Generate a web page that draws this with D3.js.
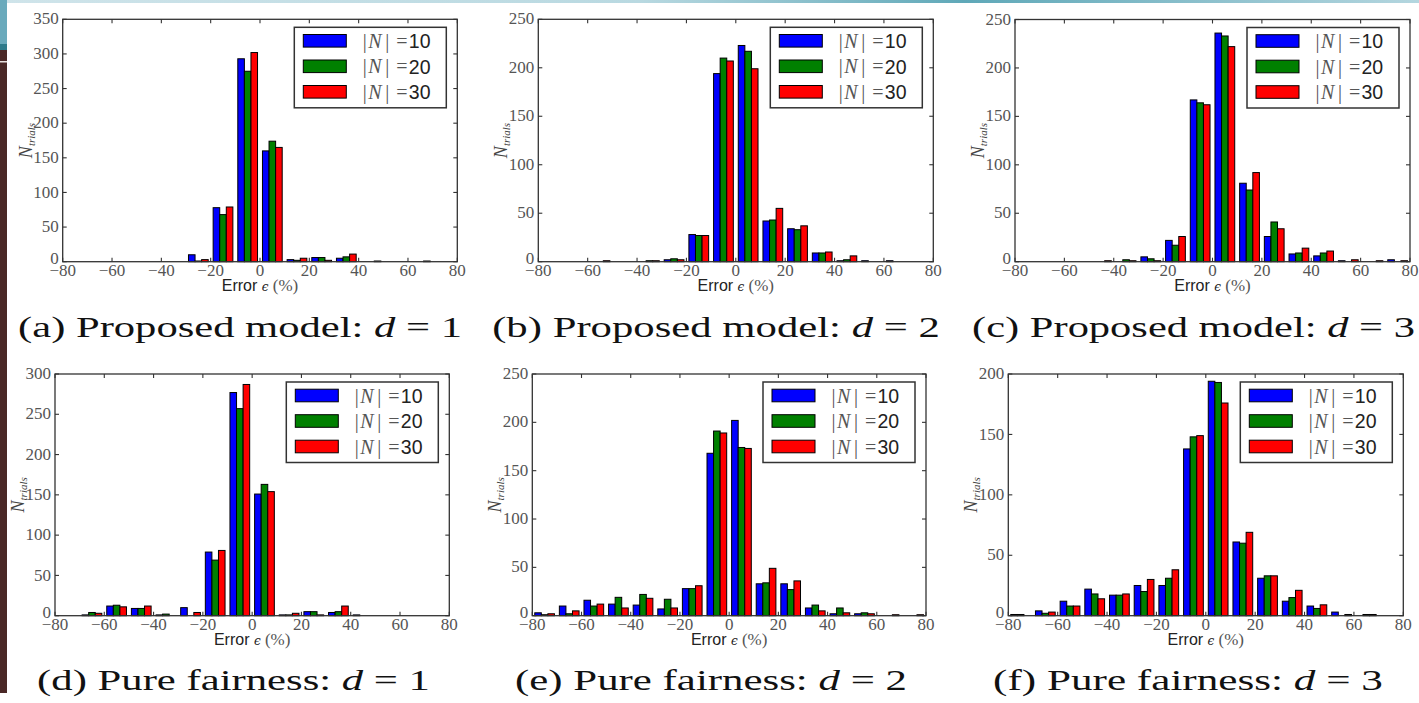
<!DOCTYPE html>
<html>
<head>
<meta charset="utf-8">
<script src="https://cdn.jsdelivr.net/npm/d3@7"></script>
<style>
  body { margin: 0; background: #fff; }
  svg { display: block; }
</style>
</head>
<body>
<div id="chart"></div>
<script>
// histogram bins (error %, width 10)
var binEdges = [-80, -70, -60, -50, -40, -30, -20, -10, 0, 10, 20, 30, 40, 50, 60, 70, 80];
var seriesLabels = ["10", "20", "30"];
var xTicks = [-80, -60, -40, -20, 0, 20, 40, 60, 80];

// counts per bin, rows: |N|=10, |N|=20, |N|=30
var countsA = [
  [0, 0, 0, 0, 0, 10, 78, 293, 160, 3, 6, 5, 0, 0, 0, 0],
  [0, 0, 0, 0, 0, 1, 68, 275, 174, 2, 6, 7, 0, 0, 0, 0],
  [0, 0, 0, 0, 0, 3, 79, 302, 165, 5, 2, 11, 1, 0, 1, 0]
];
var countsB = [
  [0, 0, 0, 0, 0, 2, 28, 194, 223, 42, 34, 9, 1, 1, 1, 0],
  [0, 0, 0, 0, 1, 3, 27, 210, 217, 43, 33, 9, 2, 0, 0, 0],
  [0, 0, 1, 0, 1, 2, 27, 207, 199, 55, 37, 10, 6, 0, 0, 0]
];
var countsC = [
  [0, 0, 0, 0, 0, 5, 22, 167, 236, 81, 26, 8, 6, 1, 0, 2],
  [0, 0, 0, 0, 2, 3, 17, 164, 233, 74, 41, 9, 9, 0, 0, 0],
  [0, 0, 0, 1, 1, 1, 26, 162, 222, 92, 34, 14, 11, 2, 1, 1]
];
var countsD = [
  [0, 1, 12, 9, 1, 10, 79, 277, 151, 1, 5, 4, 1, 0, 0, 0],
  [0, 4, 13, 9, 2, 0, 69, 257, 163, 1, 5, 5, 0, 0, 0, 0],
  [0, 3, 11, 12, 0, 4, 81, 287, 154, 3, 1, 12, 0, 0, 0, 0]
];
var countsE = [
  [3, 10, 16, 12, 11, 7, 28, 168, 202, 33, 33, 8, 2, 2, 0, 0],
  [1, 2, 10, 19, 22, 17, 28, 191, 174, 34, 27, 11, 8, 3, 0, 0],
  [2, 5, 12, 8, 18, 8, 31, 189, 173, 49, 36, 5, 3, 2, 1, 1]
];
var countsF = [
  [1, 4, 12, 22, 17, 25, 25, 138, 194, 61, 31, 12, 8, 3, 0, 0],
  [1, 2, 8, 18, 17, 20, 31, 148, 193, 60, 33, 15, 6, 0, 1, 0],
  [0, 3, 8, 14, 18, 30, 38, 149, 176, 69, 33, 21, 9, 1, 1, 0]
];

var yTicksA = [0, 50, 100, 150, 200, 250, 300, 350];
var yTicksB = [0, 50, 100, 150, 200, 250];
var yTicksD = [0, 50, 100, 150, 200, 250, 300];
var yTicksF = [0, 50, 100, 150, 200];

var captionLetters = ["a", "b", "c", "d", "e", "f"];
var captionNames = ["Proposed model", "Proposed model", "Proposed model",
  "Pure fairness", "Pure fairness", "Pure fairness"];
var captionD = ["1", "2", "3", "1", "2", "3"];

var colors = ["#0000ff", "#008000", "#ff0000"];
var serif = "'Liberation Serif', 'Times New Roman', serif";
var sans = "'Liberation Sans', Arial, sans-serif";

// where each subfigure sits on the page
var panels = [
  { counts: countsA, ticks: yTicksA, x: 62.7, y: 19.3, w: 394.6, h: 242.4, capX: 240, capY: 337, capW: 444 },
  { counts: countsB, ticks: yTicksB, x: 538.3, y: 19.3, w: 395, h: 242.4, capX: 716, capY: 337, capW: 448 },
  { counts: countsC, ticks: yTicksB, x: 1015, y: 19.5, w: 395, h: 242.2, capX: 1193.5, capY: 337, capW: 443 },
  { counts: countsD, ticks: yTicksD, x: 55, y: 374, w: 394.3, h: 241.7, capX: 233.5, capY: 690, capW: 393 },
  { counts: countsE, ticks: yTicksB, x: 532.3, y: 374, w: 393.7, h: 241.7, capX: 711, capY: 690, capW: 392 },
  { counts: countsF, ticks: yTicksF, x: 1008.3, y: 374, w: 395, h: 241.7, capX: 1188, capY: 690, capW: 390 }
];

var width = 1419, height = 703;
var svg = d3.select("#chart").append("svg")
  .attr("width", width)
  .attr("height", height);

// slide decoration: top gradient strip and left bar
var defs = svg.append("defs");
var grad = defs.append("linearGradient").attr("id", "topgrad");
grad.append("stop").attr("offset", "0%").attr("stop-color", "#cfe4ea");
grad.append("stop").attr("offset", "45%").attr("stop-color", "#b9d9e1");
grad.append("stop").attr("offset", "68%").attr("stop-color", "#5fa8b8");
grad.append("stop").attr("offset", "100%").attr("stop-color", "#b4d6df");
svg.append("rect").attr("x", 0).attr("y", 0).attr("width", width).attr("height", 3)
  .attr("fill", "url(#topgrad)");
svg.append("rect").attr("x", 0).attr("y", 0).attr("width", 7).attr("height", 44).attr("fill", "#6aaabc");
svg.append("rect").attr("x", 0).attr("y", 44).attr("width", 7).attr("height", 6).attr("fill", "#2f7b8b");
svg.append("rect").attr("x", 0).attr("y", 50).attr("width", 7).attr("height", 643).attr("fill", "#4a2826");
svg.append("rect").attr("x", 0).attr("y", 61).attr("width", 7).attr("height", 1.5).attr("fill", "#e8e0de");

function fmt(v) {
  return v < 0 ? "\u2212" + Math.abs(v) : String(v);
}

panels.forEach(function (p, pi) {
  var g = svg.append("g").attr("transform", "translate(" + p.x + "," + p.y + ")");
  var yMax = p.ticks[p.ticks.length - 1];

  var x = d3.scaleLinear().domain([binEdges[0], binEdges[binEdges.length - 1]]).range([0, p.w]);
  var y = d3.scaleLinear().domain([0, yMax]).range([p.h, 0]);

  // grouped histogram bars like matplotlib: 80% of the bin, split in 3
  var binW = binEdges[1] - binEdges[0];
  var barW = 0.8 * binW / 3;
  var bars = [];
  p.counts.forEach(function (row, si) {
    row.forEach(function (v, bi) {
      bars.push({ s: si, x0: binEdges[bi] + 0.1 * binW + si * barW, v: v });
    });
  });

  g.append("g").selectAll("rect")
    .data(bars)
    .enter().append("rect")
    .attr("x", function (d) { return x(d.x0); })
    .attr("width", function (d) { return x(d.x0 + barW) - x(d.x0); })
    .attr("y", function (d) { return y(d.v); })
    .attr("height", function (d) { return y(0) - y(d.v); })
    .attr("fill", function (d) { return colors[d.s]; })
    .attr("stroke", "#000")
    .attr("stroke-width", 1);

  // frame
  g.append("rect")
    .attr("width", p.w).attr("height", p.h)
    .attr("fill", "none").attr("stroke", "#333").attr("stroke-width", 1.3);

  // inward ticks on all four sides
  var tl = 4;
  var tk = g.append("g").attr("stroke", "#333").attr("stroke-width", 1.1);
  xTicks.forEach(function (t) {
    tk.append("line").attr("x1", x(t)).attr("x2", x(t)).attr("y1", p.h).attr("y2", p.h - tl);
    tk.append("line").attr("x1", x(t)).attr("x2", x(t)).attr("y1", 0).attr("y2", tl);
  });
  p.ticks.forEach(function (t) {
    tk.append("line").attr("x1", 0).attr("x2", tl).attr("y1", y(t)).attr("y2", y(t));
    tk.append("line").attr("x1", p.w).attr("x2", p.w - tl).attr("y1", y(t)).attr("y2", y(t));
  });

  // tick labels
  g.append("g").selectAll("text")
    .data(xTicks)
    .enter().append("text")
    .attr("x", function (d) { return x(d); })
    .attr("y", p.h + 14)
    .attr("text-anchor", "middle")
    .attr("font-family", serif)
    .attr("font-size", 17)
    .attr("fill", "#555")
    .text(fmt);

  g.append("g").selectAll("text")
    .data(p.ticks)
    .enter().append("text")
    .attr("x", -4)
    .attr("y", function (d) { return y(d); })
    .attr("dy", d => d === 0 ? "0.15em" : "0.3em")
    .attr("text-anchor", "end")
    .attr("font-family", serif)
    .attr("font-size", 17)
    .attr("fill", "#555")
    .text(fmt);

  // axis titles
  var xl = g.append("text")
    .attr("x", p.w / 2)
    .attr("y", p.h + 29)
    .attr("text-anchor", "middle")
    .attr("fill", "#222");
  xl.append("tspan").attr("font-family", sans).attr("font-size", 16).text("Error ");
  xl.append("tspan").attr("font-family", "'DejaVu Serif', serif").attr("font-style", "italic").attr("font-size", 12).text("\u03f5");
  xl.append("tspan").attr("font-family", serif).attr("font-size", 17).attr("fill", "#555").text(" (%)");

  var yl = g.append("text")
    .attr("transform", "translate(-31," + (p.h / 2) + ") rotate(-90)")
    .attr("text-anchor", "middle")
    .attr("font-family", serif)
    .attr("font-style", "italic")
    .attr("fill", "#444");
  yl.append("tspan").attr("font-size", 18).text("N");
  yl.append("tspan").attr("font-size", 11).attr("dy", 3).text("trials");

  // legend
  var lw = 152, lh = 80.5;
  var lg = g.append("g").attr("transform", "translate(" + (p.w - 11 - lw) + ",8)");
  lg.append("rect")
    .attr("width", lw).attr("height", lh)
    .attr("fill", "#fff").attr("stroke", "#333").attr("stroke-width", 1.5);
  seriesLabels.forEach(function (lab, i) {
    var cy = 13.5 + i * 25.5;
    lg.append("rect")
      .attr("x", 9).attr("y", cy - 6.3)
      .attr("width", 43).attr("height", 12.6)
      .attr("fill", colors[i]).attr("stroke", "#000").attr("stroke-width", 1);
    var t = lg.append("g").attr("fill", "#555");
    t.append("text").attr("x", 68.5).attr("y", cy + 7)
      .attr("font-family", serif).attr("font-size", 20).text("|");
    t.append("text").attr("x", 74).attr("y", cy + 7)
      .attr("font-family", serif).attr("font-style", "italic").attr("font-size", 20).text("N");
    t.append("text").attr("x", 91).attr("y", cy + 7)
      .attr("font-family", serif).attr("font-size", 20).text("|");
    t.append("text").attr("x", 102).attr("y", cy + 7)
      .attr("font-family", serif).attr("font-size", 20).text("=");
    t.append("text").attr("x", 114.5).attr("y", cy + 7.3)
      .attr("font-family", sans).attr("font-size", 19.5).attr("fill", "#222").text(lab);
  });

  // sub-caption
  var cap = svg.append("text")
    .attr("text-anchor", "middle")
    .attr("font-family", serif)
    .attr("font-size", 30)
    .attr("fill", "#111");
  cap.append("tspan").text("(" + captionLetters[pi] + ") " + captionNames[pi] + ": ");
  cap.append("tspan").attr("font-style", "italic").text("d");
  cap.append("tspan").text(" = " + captionD[pi]);
  var bw = cap.node().getBBox().width;
  cap.attr("transform", "translate(" + p.capX + "," + p.capY + ") scale(" + (p.capW / bw) + ",1)");
});
</script>
</body>
</html>
